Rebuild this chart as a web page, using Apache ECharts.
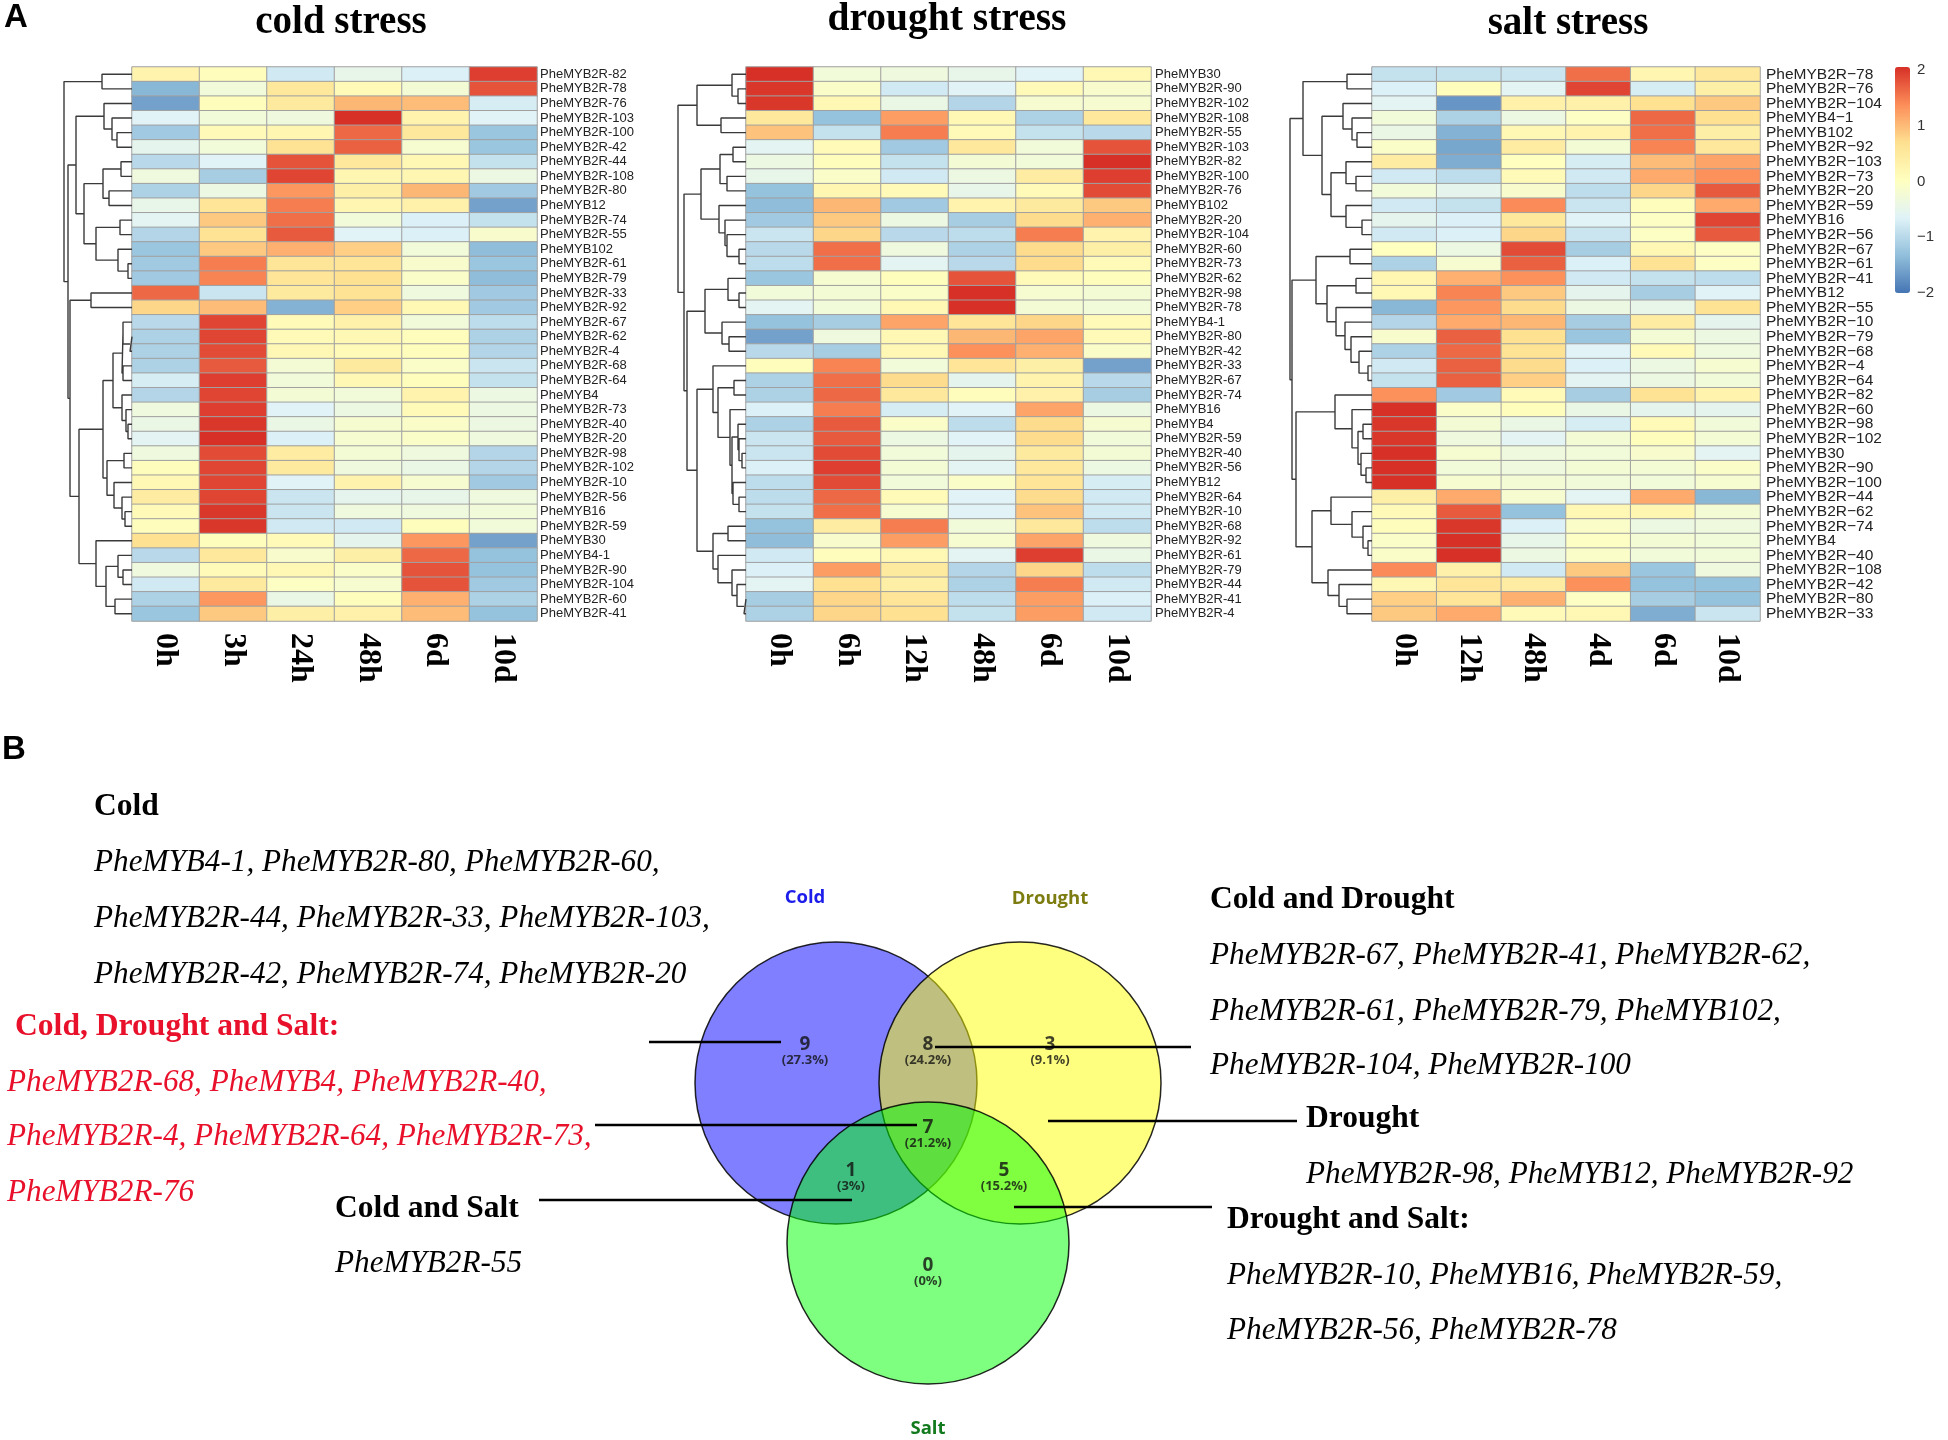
<!DOCTYPE html>
<html><head><meta charset="utf-8">
<style>html,body{margin:0;padding:0;background:#fff}#c{width:1948px;height:1440px}</style>
<script src="https://cdn.jsdelivr.net/npm/echarts@6/dist/echarts.min.js"></script>
</head><body><div id="c"></div>
<script>
// ---------- heatmap data ----------
const coldTimes = ['0h','3h','24h','48h','6d','10d'];
const droughtTimes = ['0h','6h','12h','48h','6d','10d'];
const saltTimes = ['0h','12h','48h','4d','6d','10d'];

const coldGenes = ['PheMYB2R-82','PheMYB2R-78','PheMYB2R-76','PheMYB2R-103','PheMYB2R-100','PheMYB2R-42','PheMYB2R-44','PheMYB2R-108','PheMYB2R-80','PheMYB12','PheMYB2R-74','PheMYB2R-55','PheMYB102','PheMYB2R-61','PheMYB2R-79','PheMYB2R-33','PheMYB2R-92','PheMYB2R-67','PheMYB2R-62','PheMYB2R-4','PheMYB2R-68','PheMYB2R-64','PheMYB4','PheMYB2R-73','PheMYB2R-40','PheMYB2R-20','PheMYB2R-98','PheMYB2R-102','PheMYB2R-10','PheMYB2R-56','PheMYB16','PheMYB2R-59','PheMYB30','PheMYB4-1','PheMYB2R-90','PheMYB2R-104','PheMYB2R-60','PheMYB2R-41'];
const coldValues = [
[0.25,0.05,-0.8,-0.5,-0.7,1.9],[-1.4,-0.3,0.5,0.1,-0.25,1.75],[-1.6,0.05,0.45,1.0,0.95,-0.75],[-0.65,-0.3,-0.35,2.0,0.25,-0.65],
[-1.2,0.1,0.2,1.6,0.5,-1.25],[-0.55,-0.3,0.6,1.65,-0.2,-1.25],[-1.0,-0.65,1.75,0.5,0.15,-0.9],[-0.35,-1.15,1.85,0.2,0.2,-0.4],
[-1.1,-0.4,1.25,0.35,1.0,-1.2],[-0.5,0.55,1.45,0.2,0.3,-1.6],[-0.6,0.85,1.55,-0.3,-0.7,-0.9],[-1.05,0.6,1.7,-0.65,-0.7,-0.15],
[-1.25,0.85,1.05,0.8,-0.3,-1.35],[-1.2,1.45,0.55,0.55,-0.15,-1.25],[-1.2,1.4,0.55,0.65,-0.1,-1.35],[1.6,-0.85,0.45,0.6,-0.35,-1.2],
[0.75,0.95,-1.45,0.8,0.15,-1.2],[-1.0,1.85,0.1,0.3,-0.3,-0.95],[-1.1,1.85,0.1,0.15,0.05,-1.1],[-1.1,1.8,0.15,0.1,0.05,-1.05],
[-1.1,1.7,-0.25,0.45,-0.1,-0.85],[-0.75,1.9,-0.3,0.15,0.05,-0.9],[-1.05,1.85,-0.25,-0.3,0.25,-0.4],[-0.35,1.9,-0.65,-0.4,0.1,-0.4],
[-0.45,1.95,-0.45,-0.2,-0.1,-0.4],[-0.6,2.0,-0.7,-0.2,-0.1,-0.35],[-0.35,1.8,0.4,-0.25,-0.35,-1.05],[0.05,1.85,0.45,-0.35,-0.45,-1.05],
[0.15,1.85,-0.65,0.25,-0.2,-1.2],[0.4,1.85,-0.85,-0.55,-0.5,-0.35],[0.1,1.95,-0.85,-0.35,-0.35,-0.3],[0.05,1.95,-0.8,-0.8,0.05,-0.3],
[0.65,0.05,0.1,-0.55,1.25,-1.6],[-1.0,0.5,-0.15,0.35,1.6,-1.3],[-0.35,0.1,0.15,-0.1,1.75,-1.3],[-0.8,0.45,-0.05,-0.2,1.75,-1.2],
[-1.1,1.25,-0.45,0.05,1.05,-1.1],[-1.25,0.85,0.35,0.3,0.95,-1.3]];

const droughtGenes = ['PheMYB30','PheMYB2R-90','PheMYB2R-102','PheMYB2R-108','PheMYB2R-55','PheMYB2R-103','PheMYB2R-82','PheMYB2R-100','PheMYB2R-76','PheMYB102','PheMYB2R-20','PheMYB2R-104','PheMYB2R-60','PheMYB2R-73','PheMYB2R-62','PheMYB2R-98','PheMYB2R-78','PheMYB4-1','PheMYB2R-80','PheMYB2R-42','PheMYB2R-33','PheMYB2R-67','PheMYB2R-74','PheMYB16','PheMYB4','PheMYB2R-59','PheMYB2R-40','PheMYB2R-56','PheMYB12','PheMYB2R-64','PheMYB2R-10','PheMYB2R-68','PheMYB2R-92','PheMYB2R-61','PheMYB2R-79','PheMYB2R-44','PheMYB2R-41','PheMYB2R-4'];
const droughtValues = [
[2.0,-0.3,-0.35,-0.5,-0.65,0.15],[1.95,-0.1,-0.8,-0.65,0.1,-0.15],[1.95,0.15,-0.45,-1.05,-0.2,-0.2],[0.5,-1.3,1.2,0.15,-1.1,0.5],
[0.9,-0.9,1.45,0.1,-0.9,-1.0],[-0.6,0.1,-1.2,0.5,-0.3,1.75],[-0.4,0.05,-0.9,-0.25,-0.3,2.0],[-0.5,-0.1,-0.8,-0.4,0.4,1.9],
[-1.3,0.2,0.1,-0.5,0.1,1.8],[-1.35,1.0,-1.2,0.25,0.45,0.85],[-1.2,0.85,-0.4,-1.15,0.7,1.05],[-0.85,0.75,-1.0,-0.95,1.45,0.25],
[-1.0,1.55,-0.35,-1.1,0.7,0.35],[-0.95,1.55,-0.6,-1.0,0.7,0.1],[-1.25,-0.2,0.05,1.75,0.1,0.05],[-0.3,-0.25,-0.1,2.0,-0.2,-0.25],
[-0.6,-0.3,0.15,2.0,-0.25,-0.3],[-1.3,-1.15,1.15,0.55,0.75,0.1],[-1.6,-0.35,0.15,1.0,1.15,0.1],[-1.0,-1.15,0.15,1.3,1.05,-0.1],
[0.05,1.4,-0.3,0.55,0.35,-1.6],[-1.1,1.55,0.7,-0.55,0.25,-1.0],[-1.1,1.6,0.5,0.05,0.3,-1.15],[-0.7,1.45,-0.75,-0.65,1.15,-0.4],
[-1.1,1.7,-0.1,-0.95,0.7,-0.2],[-0.85,1.7,-0.4,-0.65,0.7,-0.3],[-0.85,1.8,-0.3,-0.55,0.45,-0.25],[-0.7,1.9,-0.25,-0.6,0.5,-0.4],
[-0.95,1.8,-0.3,-0.1,0.55,-0.75],[-0.95,1.6,0.1,-0.65,0.7,-0.8],[-0.9,1.55,-0.2,-0.65,0.9,-0.8],[-1.3,0.4,1.45,-0.3,0.5,-0.95],
[-1.35,-0.15,1.2,-0.2,1.15,-0.35],[-0.8,0.05,0.15,-0.6,1.9,-0.45],[-0.7,1.2,0.45,-1.05,0.75,-0.95],[-0.6,0.65,0.35,-1.1,1.45,-0.8],
[-1.15,0.75,0.55,-0.95,1.2,-0.7],[-1.1,0.75,0.65,-0.9,1.2,-0.8]];

const saltGenes = ['PheMYB2R−78','PheMYB2R−76','PheMYB2R−104','PheMYB4−1','PheMYB102','PheMYB2R−92','PheMYB2R−103','PheMYB2R−73','PheMYB2R−20','PheMYB2R−59','PheMYB16','PheMYB2R−56','PheMYB2R−67','PheMYB2R−61','PheMYB2R−41','PheMYB12','PheMYB2R−55','PheMYB2R−10','PheMYB2R−79','PheMYB2R−68','PheMYB2R−4','PheMYB2R−64','PheMYB2R−82','PheMYB2R−60','PheMYB2R−98','PheMYB2R−102','PheMYB30','PheMYB2R−90','PheMYB2R−100','PheMYB2R−44','PheMYB2R−62','PheMYB2R−74','PheMYB4','PheMYB2R−40','PheMYB2R−108','PheMYB2R−42','PheMYB2R−80','PheMYB2R−33'];
const saltValues = [
[-0.9,-0.9,-0.85,1.55,0.2,0.5],[-0.7,0.05,-0.6,1.85,-0.75,0.35],[-0.6,-1.7,0.3,0.3,0.65,0.85],[-0.3,-1.1,-0.4,-0.05,1.6,0.65],
[-0.45,-1.45,0.15,0.25,1.55,0.35],[-0.1,-1.55,0.4,-0.25,1.4,0.5],[0.4,-1.5,0.0,-0.75,0.95,1.15],[-0.8,-0.95,0.1,-0.8,1.1,1.3],
[-0.3,-0.55,-0.15,-0.95,0.75,1.7],[-0.8,-0.9,1.35,-0.85,0.05,1.1],[-0.55,-0.7,0.5,-0.65,-0.05,1.85],[-0.8,-0.7,0.75,-0.85,-0.05,1.7],
[0.0,-0.4,1.8,-1.15,0.15,-0.05],[-1.1,-0.2,1.65,-0.7,0.6,-0.05],[0.2,1.05,1.3,-0.8,-0.9,-0.95],[0.15,1.4,0.85,-0.55,-1.15,-0.65],
[-1.4,1.25,0.7,-0.4,-0.5,0.6],[-1.05,1.1,1.0,-1.15,0.4,-0.55],[-0.15,1.65,0.65,-1.25,-0.25,-0.4],[-1.1,1.6,0.6,-0.65,0.1,-0.35],
[-0.8,1.65,0.7,-0.7,-0.4,-0.2],[-0.9,1.65,0.8,-0.6,-0.4,-0.3],[1.3,-1.2,0.1,-1.15,0.6,0.25],[2.0,-0.1,0.05,-0.45,-0.55,-0.55],
[1.95,-0.25,-0.45,-0.75,0.1,-0.3],[1.95,-0.35,-0.6,-0.25,0.05,-0.25],[2.0,-0.2,-0.35,-0.3,-0.15,-0.6],[2.0,-0.3,-0.35,-0.25,-0.25,-0.1],
[2.0,-0.2,-0.25,-0.3,-0.3,-0.2],[0.35,1.1,-0.2,-0.6,1.1,-1.4],[0.1,1.7,-1.3,0.15,0.2,-0.25],[0.05,1.95,-0.7,-0.1,-0.4,-0.35],
[-0.1,2.0,-0.5,-0.05,-0.25,-0.3],[-0.1,2.0,-0.4,-0.1,-0.3,-0.3],[1.35,0.3,-0.8,0.85,-1.25,-0.35],[0.15,0.55,0.4,1.3,-1.3,-1.3],
[0.8,0.55,1.05,-0.05,-1.15,-1.3],[0.85,1.1,0.1,0.15,-1.5,-0.85]];

// dendrograms: [height, upper, lower]; 0 = next leaf in row order
const coldTree = [68,[30,0,0],[64,
  [56,[28,0,[20,0,[15,0,0]]],
      [48,[29,[11,0,0],[23,0,0]],[36,[12,0,0],[14,0,[4,0,0]]]]],
  [62,[41,0,0],[53,
    [29,[19,[10,[9,0,[2,0,0]],[9,0,0]],[10,0,[6,0,[4,0,0]]]],
        [25,[8,0,0],[18,0,[10,0,[7,0,0]]]]],
    [36,0,[26,[14,0,[9,0,0]],[17,0,0]]]]]]];
const droughtTree = [68,[49,[14,0,[8,0,0]],[25,0,0]],[62,
  [45,[26,[13,0,0],[19,0,0]],[27,0,[21,0,[19,0,[7,0,0]]]]],
  [59,[41,[18,0,[7,0,0]],[24,0,[17,0,0]]],
      [49,[33,0,[28,[12,0,0],[16,0,[14,[8,0,[7,0,[4,0,0]]],[13,0,[7,0,0]]]]]],
          [33,[18,0,0],[28,0,[14,0,[9,0,[2,0,0]]]]]]]]];
const saltTree = [82,[69,[25,0,0],[50,[29,0,[20,0,[15,0,0]]],[41,[26,0,[16,0,0]],[26,0,[10,0,0]]]]],[80,
  [56,[22,0,0],[45,[16,0,0],[36,0,[27,0,[21,0,[13,0,[4,0,0]]]]]]],
  [76,[37,0,[20,0,[14,[9,0,0],[11,0,[6,0,0]]]]],
      [60,[41,0,[20,0,[9,0,[4,0,0]]]],[44,0,[33,0,[25,0,0]]]]]]];

// Venn data
const vennSets = ['Cold','Drought','Salt'];
const vennRegionCounts = [9,8,3,7,1,5,0];
const vennRegionPercents = ['27.3%','24.2%','9.1%','21.2%','3%','15.2%','0%'];

// ---------- text blocks ----------
const panelLetters = ['A','B'];
const stressTitles = ['cold stress','drought stress','salt stress'];
const setHeads = ['Cold','Cold and Drought','Drought','Drought and Salt:','Cold and Salt','Cold, Drought and Salt:'];
const coldOnly = ['PheMYB4-1, PheMYB2R-80, PheMYB2R-60,','PheMYB2R-44, PheMYB2R-33, PheMYB2R-103,','PheMYB2R-42, PheMYB2R-74, PheMYB2R-20'];
const coldDrought = ['PheMYB2R-67, PheMYB2R-41, PheMYB2R-62,','PheMYB2R-61, PheMYB2R-79, PheMYB102,','PheMYB2R-104, PheMYB2R-100'];
const droughtOnly = ['PheMYB2R-98, PheMYB12, PheMYB2R-92'];
const droughtSalt = ['PheMYB2R-10, PheMYB16, PheMYB2R-59,','PheMYB2R-56, PheMYB2R-78'];
const coldSalt = ['PheMYB2R-55'];
const allThree = ['PheMYB2R-68, PheMYB4, PheMYB2R-40,','PheMYB2R-4, PheMYB2R-64, PheMYB2R-73,','PheMYB2R-76'];

// ---------- helpers ----------
const cells = m => m.flatMap((r,y)=>r.map((v,x)=>[x,y,v]));
function dendro(tree){
  let next=0; const out=[];
  (function walk(n){
    if(n===0) return {h:0,y:(next++)+0.5};
    const a=walk(n[1]), b=walk(n[2]); 
    out.push([a.h,a.y],[n[0],a.y],[n[0],b.y],[b.h,b.y],['-','-']);
    return {h:n[0],y:(a.y+b.y)/2};
  })(tree);
  return out;
}
const panels = [
 {t:coldTimes,g:coldGenes,v:coldValues,tree:coldTree,left:132,w:405,dw:76,fs:13,m:3},
 {t:droughtTimes,g:droughtGenes,v:droughtValues,tree:droughtTree,left:746,w:405,dw:76,fs:13,m:4},
 {t:saltTimes,g:saltGenes,v:saltValues,tree:saltTree,left:1372,w:388,dw:84,fs:15.5,m:6}
];
const gridTop=67, gridH=554;
const grid=[],xAxis=[],yAxis=[],series=[];
panels.forEach((p,i)=>{
  grid.push({left:p.left,top:gridTop,width:p.w,height:gridH});
  xAxis.push({type:'category',gridIndex:i,data:p.t,position:'bottom',axisLine:{show:false},axisTick:{show:false},splitLine:{show:false},
    axisLabel:{interval:0,rotate:-90,margin:12,fontFamily:'Liberation Serif',fontWeight:'bold',fontSize:32,color:'#000'}});
  yAxis.push({type:'category',gridIndex:i,data:p.g,inverse:true,position:'right',axisLine:{show:false},axisTick:{show:false},splitLine:{show:false},
    axisLabel:{interval:0,margin:p.m,fontFamily:'Liberation Sans',fontSize:p.fs,color:'#222'}});
  series.push({type:'heatmap',xAxisIndex:i,yAxisIndex:i,data:cells(p.v),
    itemStyle:{borderColor:'#a0a0a0',borderWidth:1},emphasis:{disabled:true},progressive:0});
});
panels.forEach((p,i)=>{
  grid.push({left:p.left-p.dw,top:gridTop,width:p.dw,height:gridH});
  xAxis.push({type:'value',gridIndex:3+i,min:0,max:p.dw,inverse:true,show:false});
  yAxis.push({type:'value',gridIndex:3+i,min:0,max:p.g.length,inverse:true,show:false});
  series.push({type:'line',xAxisIndex:3+i,yAxisIndex:3+i,data:dendro(p.tree),showSymbol:false,symbol:'none',
    connectNulls:false,lineStyle:{color:'#3a3a3a',width:1.4},silent:true,clip:false});
});
// colour-bar tick axis (index 6)
grid.push({left:1895,top:70,width:15,height:223});
xAxis.push({type:'value',gridIndex:6,min:0,max:1,show:false});
yAxis.push({type:'value',gridIndex:6,min:-2,max:2,interval:1,position:'right',axisLine:{show:false},axisTick:{show:false},splitLine:{show:false},
  axisLabel:{margin:7,fontFamily:'Liberation Sans',fontSize:15,color:'#333',showMinLabel:true,showMaxLabel:true,
    formatter:v=>String(v).replace('-','\u2212')}});
// Venn grid (index 7): one axis unit = one pixel of the picture
grid.push({left:0,top:0,width:1948,height:1440});
xAxis.push({type:'value',gridIndex:7,min:0,max:1948,show:false});
yAxis.push({type:'value',gridIndex:7,min:0,max:1440,inverse:true,show:false});
const vennCircleAt=[[836,1083],[1020,1083],[928,1243]];
const vennCircleFill=['rgba(0,0,255,0.5)','rgba(255,255,0,0.5)','rgba(0,255,0,0.5)'];
vennSets.forEach((s,i)=>series.push({type:'scatter',name:s,xAxisIndex:7,yAxisIndex:7,symbol:'circle',symbolSize:282,silent:true,
  data:[vennCircleAt[i]],z:3,itemStyle:{color:vennCircleFill[i],borderColor:'rgba(0,0,0,0.85)',borderWidth:1.5,opacity:1}}));
const vennRegionAt=[[805,1052],[928,1052],[1050,1052],[928,1135],[851,1178],[1004,1178],[928,1273]];
series.push({type:'scatter',xAxisIndex:7,yAxisIndex:7,symbol:'circle',symbolSize:0,silent:true,z:4,
  data:vennRegionAt.map((p,i)=>({value:p,label:{show:true,position:'inside',
    formatter:`{n|${vennRegionCounts[i]}}\n{p|(${vennRegionPercents[i]})}`,
    rich:{n:{fontFamily:'Open Sans',fontWeight:'bold',fontSize:19,lineHeight:17,color:'#111'},
          p:{fontFamily:'Open Sans',fontWeight:'bold',fontSize:13,lineHeight:15,color:'#111'}}}}))});
const leaders=[[[649,1042],[781,1042]],[[935,1047],[1191,1047]],[[595,1125],[917,1125]],[[539,1200],[852,1200]],[[1048,1121],[1297,1121]],[[1014,1207],[1212,1207]]];
series.push({type:'line',xAxisIndex:7,yAxisIndex:7,symbol:'none',showSymbol:false,silent:true,z:5,connectNulls:false,
  lineStyle:{color:'#000',width:2.6},data:leaders.flatMap(l=>[l[0],l[1],['-','-']])});

// ---------- free text ----------
const T=(text,x,y,font,fill,align)=>({type:'text',x,y:y+3,z:10,style:{text,font,fill:fill||'#000',textAlign:align||'left',textVerticalAlign:'middle'}});
const serifB=s=>`bold ${s}px "Liberation Serif"`, serifI=s=>`italic ${s}px "Liberation Serif"`;
const sansB=s=>`bold ${s}px "Liberation Sans"`, openB=s=>`bold ${s}px "Open Sans"`;
const red='#e8102a';
const I=31.2;
const graphic=[
 T(panelLetters[0],4,15,sansB(33)),T(panelLetters[1],2,747,sansB(33)),
 T(stressTitles[0],341,20,serifB(39),'#000','center'),T(stressTitles[1],947,17,serifB(39.5),'#000','center'),T(stressTitles[2],1568,21,serifB(39),'#000','center'),
 T(setHeads[0],94,804,serifB(31.5)),
 T(coldOnly[0],94,860,serifI(I)),T(coldOnly[1],94,916,serifI(I)),T(coldOnly[2],94,972,serifI(I)),
 T(setHeads[5],15,1024,serifB(31.6),red),
 T(allThree[0],7,1080,serifI(I),red),T(allThree[1],7,1134,serifI(I),red),T(allThree[2],7,1190,serifI(I),red),
 T(setHeads[4],335,1206,serifB(31.5)),T(coldSalt[0],335,1261,serifI(I)),
 T(setHeads[1],1210,897,serifB(31.5)),
 T(coldDrought[0],1210,953,serifI(I)),T(coldDrought[1],1210,1009,serifI(I)),T(coldDrought[2],1210,1063,serifI(I)),
 T(setHeads[2],1306,1116,serifB(31.5)),T(droughtOnly[0],1306,1172,serifI(I)),
 T(setHeads[3],1227,1217,serifB(31.5)),T(droughtSalt[0],1227,1273,serifI(I)),T(droughtSalt[1],1227,1328,serifI(I)),
 T(vennSets[0],805,895,openB(18.5),'#1c1ceb','center'),T(vennSets[1],1050,896,openB(18.5),'#7c7c10','center'),T(vennSets[2],928,1426,openB(18.5),'#117a1c','center')
];

const chart=echarts.init(document.getElementById('c'));
chart.setOption({animation:false,backgroundColor:'#fff',grid,xAxis,yAxis,series,graphic,
  visualMap:[{type:'continuous',min:-2,max:2,seriesIndex:[0,1,2],dimension:2,left:1895,top:67,padding:0,itemWidth:15,itemHeight:226,
    calculable:false,hoverLink:false,text:null,showLabel:false,
    inRange:{color:['#4575B4','#91BFDB','#E0F3F8','#FFFFBF','#FEE090','#FC8D59','#D73027']}}]});
</script></body></html>
